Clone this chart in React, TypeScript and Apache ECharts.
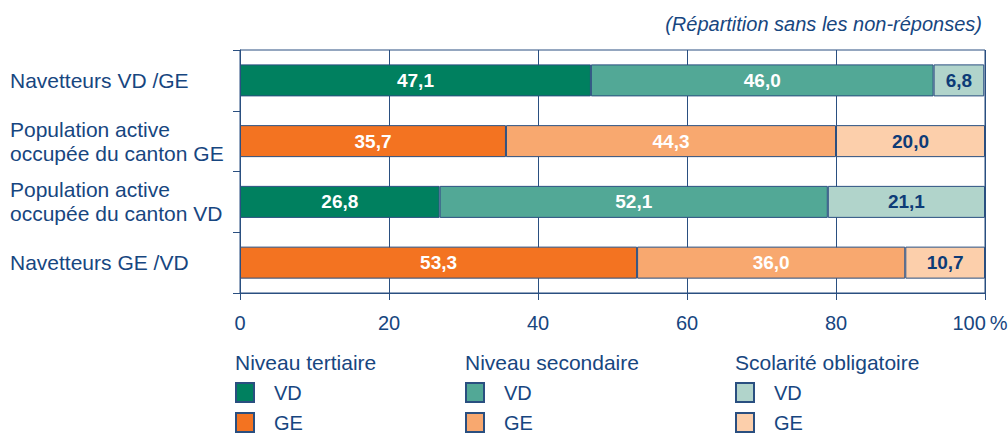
import React, { useEffect, useRef } from "react";
import * as echarts from "echarts";

const categories = [
  "Navetteurs VD /GE",
  "Population active\noccupée du canton GE",
  "Population active\noccupée du canton VD",
  "Navetteurs GE /VD",
];
const rowCanton = ["VD", "GE", "VD", "GE"];
const tertiaire = [47.1, 35.7, 26.8, 53.3];
const secondaire = [46.0, 44.3, 52.1, 36.0];
const obligatoire = [6.8, 20.0, 21.1, 10.7];

const groupTitles = ["Niveau tertiaire", "Niveau secondaire", "Scolarité obligatoire"];
const cantons = ["VD", "GE"];

const TEXT = "#17467F";
const LINE = "#2A4F80";
const colors: Record<string, string> = {
  "tert-VD": "#00805F",
  "tert-GE": "#F37321",
  "sec-VD": "#52A896",
  "sec-GE": "#F8A86F",
  "obl-VD": "#B1D4CB",
  "obl-GE": "#FCCFAB",
};

const FONT = "Arial, 'Liberation Sans', Helvetica, sans-serif";

export default function App() {
  const ref = useRef<HTMLDivElement>(null);
  useEffect(() => {
    document.body.style.margin = "0";
    if (!ref.current) return;
    const chart = echarts.init(ref.current, undefined, { renderer: "svg" });
    const levels = [
      { key: "tert", values: tertiaire, labelColor: "#FFFFFF" },
      { key: "sec", values: secondaire, labelColor: "#FFFFFF" },
      { key: "obl", values: obligatoire, labelColor: "#0D3B77" },
    ];
    const series: any[] = [];
    levels.forEach((lv) => {
      cantons.forEach((c) => {
        const name = `${lv.key}-${c}`;
        series.push({
          name,
          type: "bar",
          stack: "total",
          barWidth: 32,
          data: lv.values.map((v, i) => (rowCanton[i] === c ? v : "-")),
          itemStyle: { color: colors[name], borderColor: LINE, borderWidth: 1 },
          label: {
            show: true,
            position: "inside",
            color: lv.labelColor,
            fontFamily: FONT,
            fontWeight: "bold",
            fontSize: 19,
            formatter: (p: any) => Number(p.value).toFixed(1).replace(".", ","),
          },
        });
      });
    });
    const legendLefts = [235, 465, 735];
    const legends = ["tert", "sec", "obl"].map((k, i) => ({
      orient: "vertical",
      left: legendLefts[i],
      top: 382,
      height: 70,
      padding: 0,
      itemWidth: 18,
      itemHeight: 19,
      itemGap: 9,
      icon: "rect",
      selectedMode: false,
      data: cantons.map((c) => `${k}-${c}`),
      formatter: (n: string) => n.split("-")[1],
      textStyle: { color: TEXT, fontSize: 20, fontFamily: FONT, padding: [0, 0, 0, 15] },
    }));
    const graphics: any[] = [
      {
        type: "text",
        right: 26,
        top: 14,
        style: {
          text: "(Répartition sans les non-réponses)",
          fill: TEXT,
          font: `italic 20px ${FONT}`,
        },
      },
      ...groupTitles.map((t, i) => ({
        type: "text",
        left: legendLefts[i],
        top: 352,
        style: { text: t, fill: TEXT, font: `21px ${FONT}` },
      })),
    ];
    chart.setOption({
      animation: false,
      grid: {
        left: 240,
        right: 23,
        top: 50,
        bottom: 140,
        show: true,
        borderColor: LINE,
        borderWidth: 1,
        outerBoundsMode: "none",
        containLabel: false,
      },
      xAxis: {
        type: "value",
        min: 0,
        max: 100,
        interval: 20,
        axisLine: { show: true, lineStyle: { color: LINE } },
        axisTick: { show: true, length: 7, lineStyle: { color: LINE } },
        splitLine: { show: true, lineStyle: { color: LINE, width: 1 } },
        axisLabel: {
          color: TEXT,
          fontSize: 20,
          fontFamily: FONT,
          margin: 20,
          formatter: (v: number) => (v === 100 ? "{e|100\u2009%}" : String(v)),
          rich: {
            e: {
              color: TEXT,
              fontSize: 20,
              fontFamily: FONT,
              padding: [0, 10, 0, 0],
            },
          },
        },
      },
      yAxis: {
        type: "category",
        inverse: true,
        data: categories,
        axisLine: { show: true, lineStyle: { color: LINE } },
        axisTick: { show: true, length: 7, lineStyle: { color: LINE } },
        axisLabel: {
          color: TEXT,
          fontSize: 21,
          fontFamily: FONT,
          align: "left",
          margin: 230,
          lineHeight: 24,
        },
      },
      legend: legends,
      graphic: graphics,
      series,
    });
    return () => chart.dispose();
  }, []);
  return <div ref={ref} style={{ width: 1008, height: 433 }} />;
}
